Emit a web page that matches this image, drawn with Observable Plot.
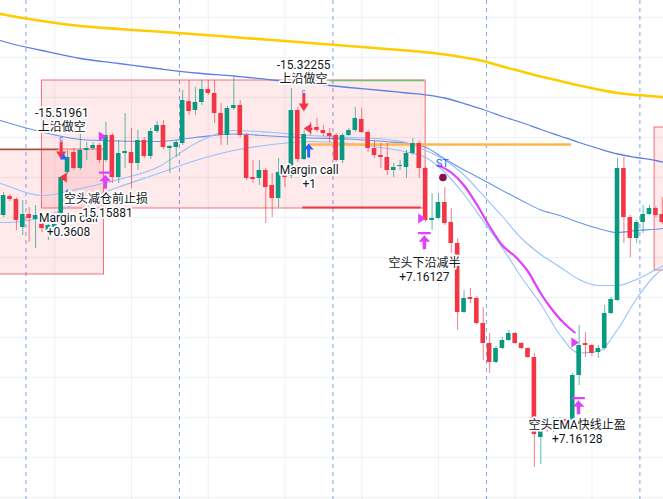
<!DOCTYPE html>
<html><head><meta charset="utf-8">
<script src="https://cdn.jsdelivr.net/npm/d3@7"></script>
<script src="https://cdn.jsdelivr.net/npm/@observablehq/plot@0.6"></script>
<style>
html,body{margin:0;padding:0;background:#fff;overflow:hidden}
#chart svg{display:block;overflow:hidden}
</style>
</head><body><div id="chart"></div>
<script>
// ---- candles (bar index = array position), prices in chart points ----
const opens = [302,321,318,290,303,298,295,287,290,304,
345,365,349,367,369,372,357,382,340,364,
365,354,377,361,386,392,369,370,374,416,
407,415,428,424,404,382,409,412,382,340,
339,347,332,319,342,341,407,358,389,390,
387,384,382,357,382,387,398,385,369,362,
360,347,351,350,364,374,349,297,299,315,
295,274,205,220,219,194,174,155,169,177,
184,174,169,160,80,90,89,94,98,97,
142,174,172,165,169,204,217,349,300,279,
295,303,309,303];
const closes = [322,318,297,303,299,302,289,292,293,340,
360,349,367,369,372,357,382,340,364,366,
354,377,361,386,392,370,371,375,417,406,
415,428,424,404,382,409,412,382,339,338,
347,330,319,345,340,407,358,383,387,387,
384,381,357,382,387,399,385,369,362,360,
347,350,352,364,374,349,297,299,315,294,
274,205,219,218,194,174,155,169,177,184,
174,169,160,83,87,88,91,97,96,142,
172,172,164,169,204,218,349,300,279,295,
303,309,302,295];
const highs = [325,323,320,317,310,312,299,297,297,341,
367,369,384,375,375,374,395,384,377,404,
389,387,380,389,396,397,372,377,427,437,
430,437,437,437,414,411,440,417,384,357,
357,349,344,359,347,429,410,387,395,399,
392,389,384,384,389,410,409,387,377,374,
374,354,357,367,379,376,351,324,324,330,
309,279,227,229,221,210,184,171,180,187,
185,175,170,164,89,92,100,100,99,144,
192,185,173,172,212,220,359,360,302,297,
312,312,311,320];
const lows = [300,316,287,282,275,269,285,277,287,301,
343,347,347,357,367,354,355,334,334,349,
329,347,359,358,384,368,344,360,372,402,
402,412,422,394,372,372,407,380,337,334,
332,294,300,310,330,339,355,357,382,385,
381,375,355,354,381,385,384,365,359,349,
342,340,347,339,362,339,295,287,298,292,
264,187,204,214,192,157,144,154,168,176,
173,168,159,50,53,85,85,93,95,95,
132,160,161,159,167,203,216,274,260,274,
284,302,300,293];

// ---- moving averages / bands sampled at bar indices ----
const maIdx   = [-0.5,0,6,12,18,24,30,36,42,48,54,60,63,66,69,72,75,78,81,84,87,90,93,96,99,102,103.2];
const maYellow= [503.7,503,496.5,491.5,488.5,486,483.3,480.3,477.5,474.5,471.5,468.5,467,465.3,463,460,456.5,451,446,441,436.5,432,428,424.5,422.5,421,420.3];
const maSlow  = [477,476,467,459,454,449,444.5,441.5,437.5,434,430,426.5,424.5,422.7,419.5,414,408,401,395,388,381.5,375,369,363.5,360,357,355.3];
const maMid   = [397,396,385.5,378,376.5,376,380,383.5,381.5,379.5,378.5,375.7,374.3,370.2,358.5,347.5,337.5,327,317,307.5,302,295,289,285,287,288.3,289];
const bandUp  = [334,333,322,329,338,350,374,387,385,382,380.3,378,375,367,357.5,342.5,322,301,279,263,250.5,238,232,232,238,248,252];
const bandLow = [295,295,300,316,330.5,343.5,357,367,373,376,374,369,365.5,360,345,323,296.5,269.5,240,213.5,182.5,164.5,166,188,219,243,249];
const fastIdx = [68,70,72,74,76,78,80,82,84,86,88,89.3];
const fastEma = [352,345,332,313,291,272,261,246,224,206,192,185];

// ---- boxes & levels ----
const boxX1 = [-3, 6, 101.8];
const boxX2 = [15.7, 66, 106];
const boxBottom = [243, 309, 247];
const boxTop = [368, 437, 390];
const levels = [
  {p: 368, i1: -1, i2: 8.6, color: "#9a5a46", w: 1.5},
  {p: 437, i1: 51, i2: 65.8, color: "#6fbf73", w: 1.5},
  {p: 310, i1: 46.8, i2: 65.3, color: "#f23645", w: 2},
  {p: 373, i1: 47.8, i2: 88.8, color: "#ffb74d", w: 2.5}
];

// ---- grid ----
const gridPrices = [20,60,100,140,180,220,260,300,340,380,420,460,500];
const gridBars = [8,20,32,44,56,68,80,92];
const sessionBars = [3.5,27.5,51.5,75.5,99.5];

// ---- signals ----
const labelText = ["-15.51961\n上沿做空","Margin call\n+0.3608","空头减仓前止损\n-15.15881","-15.32255\n上沿做空","Margin call\n+1","空头下沿减半\n+7.16127","空头EMA快线止盈\n+7.16128"];
const labelBar  = [9.1, 10.15, 16.0, 46.9, 47.8, 65.8, 89.7];
const labelPrice= [398, 293, 312, 446, 341, 248, 86];

const shortArrowBar = [9.0, 46.95], shortArrowPrice = [367, 415];
const coverArrowBar = [47.7], coverArrowPrice = [367];
const exitBar = [15.9, 65.8, 89.9], exitPrice = [337.5, 277, 112];
const entryTriBar = [15.4, 65.35, 89.3], entryTriPrice = [381, 299, 175];
const leftTriBar = [9.37, 47.6], leftTriPrice = [340, 389];
const smallTriBar = [9.37, 9.95], smallTriPrice = [361, 325];
const cBar = [9.0, 46.9], cPrice = [379, 426];

const GREEN = "#089981", RED = "#f23645", MAG = "#e040fb";
const candles = opens.map((o, i) => ({i, o, c: closes[i], h: highs[i], l: lows[i]}));
const col = d => d.c >= d.o ? GREEN : RED;
const series = (idx, vals) => idx.map((i, k) => ({i, p: vals[k]}));
const pts = (xs, ys) => xs.map((i, k) => ({i, p: ys[k]}));

function shape(polys, s = 1) {
  return {draw(ctx) {
    for (const poly of polys) {
      ctx.moveTo(poly[0][0] * s, poly[0][1] * s);
      for (const q of poly.slice(1)) ctx.lineTo(q[0] * s, q[1] * s);
      ctx.closePath();
    }
  }};
}
const arrowDown = shape([[[-1.5,-9],[1.5,-9],[1.5,2],[-1.5,2]], [[-5,1],[5,1],[0,9]]]);
const arrowUp = shape([[[0,-7],[5,-1],[-5,-1]], [[-1.5,-1.5],[1.5,-1.5],[1.5,7],[-1.5,7]]]);
const barArrowUp = shape([[[-5.5,-7.5],[5.5,-7.5],[5.5,-5.5],[-5.5,-5.5]], [[0,-4.5],[5,1],[-5,1]], [[-1.5,0.5],[1.5,0.5],[1.5,7.5],[-1.5,7.5]]], 1.15);
const triRight = shape([[[-3,-4.5],[4,0],[-3,4.5]]], 1.1);
const triLeft = shape([[[3,-4.5],[-4,0],[3,4.5]]], 1.1);
const triUp = shape([[[0,-3.5],[3.5,3],[-3.5,3]]]);

const FONT = "Roboto, 'Noto Sans CJK SC', sans-serif";

const chart = Plot.plot({
  width: 663, height: 499, margin: 0,
  x: {domain: [-0.485, 103.19], axis: null},
  y: {domain: [18, 517], axis: null},
  style: {background: "#ffffff", fontFamily: FONT},
  marks: [
    Plot.ruleY(gridPrices, {stroke: "#eef1f7", strokeWidth: 1}),
    Plot.ruleX(gridBars, {stroke: "#eef1f7", strokeWidth: 1}),
    Plot.ruleX(sessionBars, {stroke: "#7d9ff0", strokeWidth: 1, strokeDasharray: "4,4"}),
    Plot.rect(boxX1.map((x1, k) => ({x1, x2: boxX2[k], y1: boxBottom[k], y2: boxTop[k]})),
      {x1: "x1", x2: "x2", y1: "y1", y2: "y2", fill: RED, fillOpacity: 0.11, stroke: RED, strokeOpacity: 0.7, strokeWidth: 1}),
    Plot.line(series(maIdx, maYellow), {x: "i", y: "p", stroke: "#ffcc00", strokeWidth: 2.6, curve: "monotone-x"}),
    Plot.line(series(maIdx, maSlow), {x: "i", y: "p", stroke: "#5b7fe3", strokeWidth: 1.3, curve: "monotone-x"}),
    Plot.line(series(maIdx, maMid), {x: "i", y: "p", stroke: "#6a93ec", strokeWidth: 1.1, curve: "monotone-x"}),
    Plot.line(series(maIdx, bandUp), {x: "i", y: "p", stroke: "#98c2f8", strokeWidth: 1.1, curve: "monotone-x"}),
    Plot.line(series(maIdx, bandLow), {x: "i", y: "p", stroke: "#98c2f8", strokeWidth: 1.1, curve: "monotone-x"}),
    Plot.ruleY(levels, {y: "p", x1: "i1", x2: "i2", stroke: d => d.color, strokeWidth: d => d.w}),
    Plot.line(series(fastIdx, fastEma), {x: "i", y: "p", stroke: MAG, strokeWidth: 2.2, curve: "monotone-x"}),
    Plot.ruleX(candles, {x: "i", y1: "l", y2: "h", stroke: col, strokeOpacity: 0.65, strokeWidth: 1}),
    Plot.rect(candles, {x1: d => d.i - 0.36, x2: d => d.i + 0.36, y1: "o", y2: "c", fill: col}),
    Plot.dot(pts(shortArrowBar, shortArrowPrice), {x: "i", y: "p", symbol: arrowDown, fill: RED, stroke: "none", r: 5}),
    Plot.dot(pts(coverArrowBar, coverArrowPrice), {x: "i", y: "p", symbol: arrowUp, fill: "#2962ff", stroke: "none", r: 5}),
    Plot.dot(pts(exitBar, exitPrice), {x: "i", y: "p", symbol: barArrowUp, fill: MAG, stroke: "none", r: 5}),
    Plot.dot(pts(entryTriBar, entryTriPrice), {x: "i", y: "p", symbol: triRight, fill: MAG, stroke: "none", r: 5}),
    Plot.dot(pts(leftTriBar, leftTriPrice), {x: "i", y: "p", symbol: triLeft, fill: RED, stroke: "none", r: 5}),
    Plot.dot(pts(smallTriBar, smallTriPrice), {x: "i", y: "p", symbol: triUp, fill: "#2962ff", stroke: "none", r: 4}),
    Plot.text(pts(cBar, cPrice), {x: "i", y: "p", text: () => "c", fill: "#2962ff", fontSize: 7}),
    Plot.text([{i: 68.6, p: 354}], {x: "i", y: "p", text: () => "ST", fill: "#2962ff", fontSize: 11}),
    Plot.dot([{i: 68.7, p: 340}], {x: "i", y: "p", r: 3.8, fill: "#880e4f", stroke: "none"}),
    Plot.text(labelText.map((t, k) => ({t, i: labelBar[k], p: labelPrice[k]})),
      {x: "i", y: "p", text: "t", fontSize: 12, lineHeight: 1.15, fill: "#131722", stroke: "white", strokeWidth: 3.5, paintOrder: "stroke", textAnchor: "middle"})
  ]
});
document.getElementById("chart").appendChild(chart);
</script>
</body></html>
